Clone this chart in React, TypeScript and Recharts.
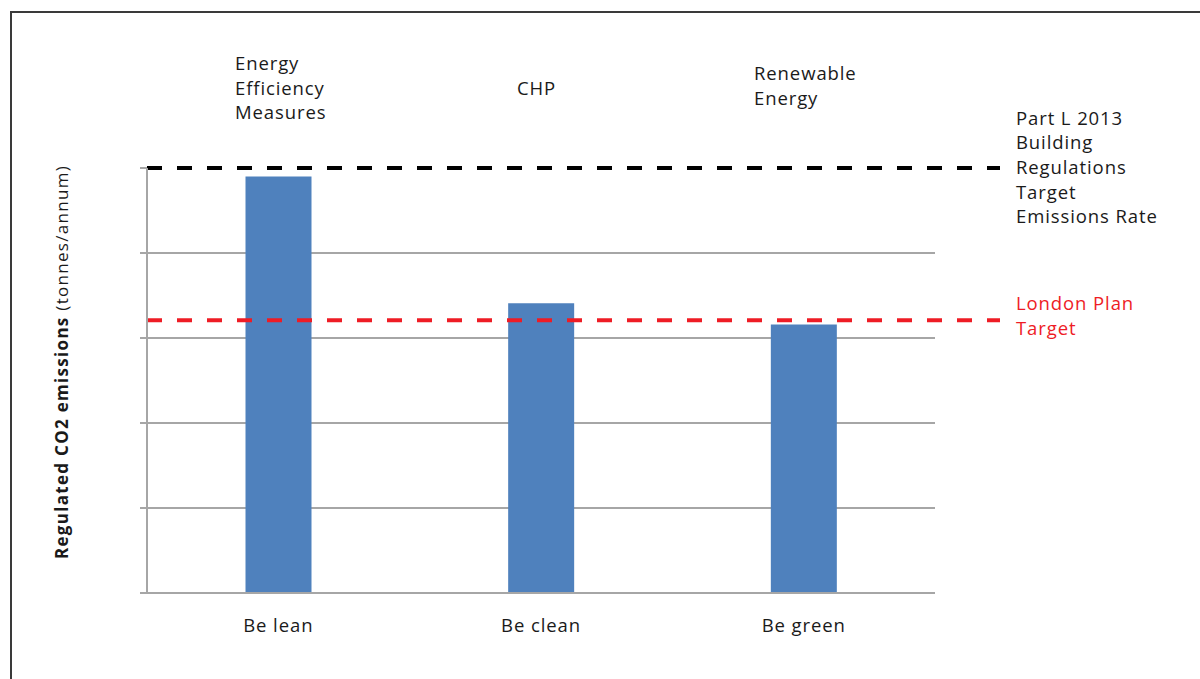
import React from 'react'
import { ComposedChart, Bar, XAxis, YAxis, CartesianGrid, ReferenceLine } from 'recharts'

const categories = ['Be lean', 'Be clean', 'Be green']
const emissions = [4.9, 3.41, 3.16]
const yTicks = [0, 1, 2, 3, 4, 5]
const partLTarget = 5.0
const londonPlanTarget = 3.21
const partLLabel = ['Part L 2013', 'Building', 'Regulations', 'Target', 'Emissions Rate']
const londonLabel = ['London Plan', 'Target']
const stageNotes = [['Energy', 'Efficiency', 'Measures'], ['CHP'], ['Renewable', 'Energy']]

const data = categories.map((name, i) => ({ name, value: emissions[i] }))

const FONT = '"Open Sans", sans-serif'
const FS = 18.5
const LS = 0.9
const LINE_H = 24.7

// left edge / first baseline of the notes above the bars
const notePos = [
  { x: 235, y: 70 },
  { x: 517, y: 95 },
  { x: 754, y: 80 },
]

function targetLine(color: string, lines: string[], textColor: string, shift: number) {
  return (props: any) => {
    const { x1, y1, x2 } = props
    const end = x2 + 65
    const startY = y1 - ((lines.length - 1) * LINE_H) / 2 + 6 + shift
    return (
      <g>
        <line x1={x1} y1={y1} x2={end} y2={y1} stroke={color} strokeWidth={4} strokeDasharray="15 15" />
        <text x={end + 16} y={startY} fill={textColor} fontFamily={FONT} fontSize={FS} letterSpacing={LS}>
          {lines.map((l, i) => (
            <tspan key={l + i} x={end + 16} dy={i === 0 ? 0 : LINE_H}>
              {l}
            </tspan>
          ))}
        </text>
      </g>
    )
  }
}

export default function App() {
  return (
    <div style={{ position: 'absolute', left: 0, top: 0, width: 1200, height: 679, overflow: 'hidden', background: '#fff' }}>
      <div
        style={{
          position: 'absolute',
          left: 10,
          top: 11,
          width: 1300,
          height: 800,
          border: '2px solid #3a3a3a',
        }}
      />
      <svg width={1200} height={679} style={{ position: 'absolute', left: 0, top: 0 }}>
        {stageNotes.map((lines, i) => (
          <text key={i} x={notePos[i].x} y={notePos[i].y} fill="#1a1a1a" fontFamily={FONT} fontSize={FS} letterSpacing={LS}>
            {lines.map((l, j) => (
              <tspan key={l} x={notePos[i].x} dy={j === 0 ? 0 : LINE_H}>
                {l}
              </tspan>
            ))}
          </text>
        ))}
        <text
          transform="translate(68, 362) rotate(-90)"
          textAnchor="middle"
          fill="#1a1a1a"
          fontFamily={FONT}
          fontSize={17}
          letterSpacing={1.3}
        >
          <tspan fontWeight="bold">Regulated CO2 emissions</tspan>
          <tspan> (tonnes/annum)</tspan>
        </text>
      </svg>
      <div style={{ position: 'absolute', left: 0, top: 0 }}>
        <ComposedChart width={1200} height={679} data={data} margin={{ top: 168, right: 265, left: 140, bottom: 56 }} barCategoryGap="37.5%">
          <CartesianGrid vertical={false} stroke="#a6a6a6" strokeWidth={2} horizontalValues={yTicks.slice(0, 5)} />
          <XAxis
            dataKey="name"
            tickLine={false}
            axisLine={{ stroke: '#a6a6a6', strokeWidth: 2 }}
            tick={{ fill: '#1a1a1a', fontFamily: FONT, fontSize: FS, letterSpacing: LS }}
            tickMargin={20}
          />
          <YAxis
            domain={[0, 5]}
            ticks={yTicks}
            width={7}
            tickFormatter={() => ''}
            tickSize={7}
            tickLine={{ stroke: '#a6a6a6', strokeWidth: 2 }}
            axisLine={{ stroke: '#a6a6a6', strokeWidth: 2 }}
          />
          <Bar dataKey="value" fill="#4f81bd" isAnimationActive={false} />
          <ReferenceLine y={partLTarget} shape={targetLine('#000000', partLLabel, '#1a1a1a', 0)} />
          <ReferenceLine y={londonPlanTarget} shape={targetLine('#ee1c25', londonLabel, '#ee1c25', -4)} />
        </ComposedChart>
      </div>
    </div>
  )
}
